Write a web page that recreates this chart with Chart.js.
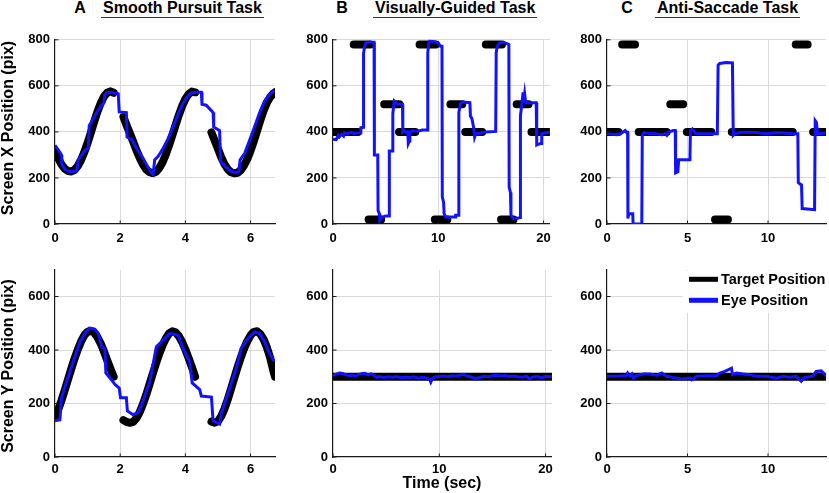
<!DOCTYPE html>
<html>
<head>
<meta charset="utf-8">
<title>Eye tracking tasks</title>
<script src="https://cdn.jsdelivr.net/npm/chart.js@4.4.1/dist/chart.umd.min.js"></script>
<style>
  html, body { margin: 0; padding: 0; background: #fff; overflow: hidden; }
  #page { position: relative; width: 829px; height: 493px; font-family: 'Liberation Sans', Arial, sans-serif; font-weight: bold; color: #000; }
  .box { position: absolute; }
  .txt { position: absolute; white-space: nowrap; font-size: 16px; line-height: 16px; }
  .ttl { position: absolute; white-space: nowrap; font-size: 16px; line-height: 14px; padding: 0 2px 2px 2px; border-bottom: 1.5px solid #333; }
  .rot { transform: translate(-50%, -50%) rotate(-90deg); }
</style>
</head>
<body>
<div id="page">
  <div class="box" style="left:10px;top:27px;width:271px;height:222px"><canvas id="pursuitX"></canvas></div>
  <div class="box" style="left:288px;top:27px;width:270px;height:222px"><canvas id="guidedX"></canvas></div>
  <div class="box" style="left:562px;top:27px;width:267px;height:222px"><canvas id="antiX"></canvas></div>
  <div class="box" style="left:10px;top:257px;width:271px;height:225px"><canvas id="pursuitY"></canvas></div>
  <div class="box" style="left:288px;top:257px;width:270px;height:225px"><canvas id="guidedY"></canvas></div>
  <div class="box" style="left:562px;top:257px;width:267px;height:225px"><canvas id="antiY"></canvas></div>

  <div class="txt" style="left:80px;top:0px;transform:translateX(-50%)">A</div>
  <div class="ttl" style="left:101px;top:1px">Smooth Pursuit Task</div>
  <div class="txt" style="left:342px;top:0px;transform:translateX(-50%)">B</div>
  <div class="ttl" style="left:373px;top:1px">Visually-Guided Task</div>
  <div class="txt" style="left:627px;top:0px;transform:translateX(-50%)">C</div>
  <div class="ttl" style="left:655px;top:1px">Anti-Saccade Task</div>

  <div class="txt rot" style="left:8px;top:128px">Screen X Position (pix)</div>
  <div class="txt rot" style="left:8px;top:366px">Screen Y Position (pix)</div>
  <div class="txt" style="left:442px;top:475px;transform:translateX(-50%)">Time (sec)</div>
</div>

<script>
// ---- tick labels
var xTicksPursuit = [0, 2, 4, 6];
var xTicksGuided = [0, 10, 20];
var xTicksAnti = [0, 5, 10];
var yTicksX = [0, 200, 400, 600, 800];
var yTicksY = [0, 200, 400, 600];

// ---- A: smooth pursuit (null = target off)
var pursuitTargetTime = [0, 0.1, 0.2, 0.3, 0.4, 0.5, 0.6, 0.7, 0.8, 0.9, 1.0, 1.1, 1.2, 1.3, 1.4, 1.5, 1.6, 1.7, 1.8, 1.95,
  2.1, 2.2, 2.3, 2.4, 2.5, 2.6, 2.7, 2.8, 2.9, 3.0, 3.1, 3.2, 3.3, 3.4, 3.5, 3.6, 3.7, 3.8, 3.9, 4.0, 4.1, 4.2, 4.3, 4.55,
  4.8, 4.9, 5.0, 5.1, 5.2, 5.3, 5.4, 5.5, 5.6, 5.7, 5.8, 5.9, 6.0, 6.1, 6.2, 6.3, 6.4, 6.5, 6.6, 6.7, 6.75];
var pursuitTargetX = [318, 285, 258, 240, 230, 228, 235, 252, 278, 312, 352, 397, 443, 487, 524, 553, 570, 576, 570, null,
  465, 428, 393, 357, 320, 287, 258, 237, 225, 221, 227, 243, 268, 302, 342, 385, 430, 473, 512, 543, 564, 575, 572, null,
  398, 362, 327, 290, 260, 238, 225, 220, 222, 234, 254, 282, 318, 360, 405, 450, 492, 526, 551, 567, 572];
var pursuitTargetY = [150, 178, 212, 250, 290, 330, 368, 402, 432, 455, 468, 472, 465, 448, 425, 395, 362, 330, 300, null,
  138, 131, 128, 131, 145, 168, 198, 233, 272, 312, 350, 386, 418, 443, 462, 470, 466, 452, 430, 402, 370, 336, 300, null,
  132, 128, 134, 152, 180, 215, 255, 295, 335, 372, 405, 433, 455, 468, 470, 460, 440, 410, 372, 322, 300];

var pursuitEyeXTime = [0, 0.1, 0.2, 0.21, 0.31, 0.46, 0.61, 0.68, 0.71, 0.77, 0.92, 1.02, 1.05, 1.17, 1.28, 1.38, 1.5, 1.53, 1.58, 1.68,
  1.94, 1.97, 2.19, 2.21, 2.35, 2.5, 2.7, 2.86, 2.96, 3.01, 3.06, 3.16, 3.32, 3.47, 3.62, 3.78, 3.93, 4.08, 4.18, 4.34,
  4.49, 4.51, 4.64, 4.74, 4.85, 4.87, 5.05, 5.08, 5.26, 5.41, 5.56, 5.64, 5.68, 5.82, 5.97, 6.12, 6.28, 6.43, 6.58, 6.73];
var pursuitEyeX = [342, 322, 300, 258, 236, 227, 229, 236, 279, 290, 321, 328, 427, 456, 484, 505, 527, 562, 569, 572,
  566, 487, 484, 378, 368, 329, 286, 244, 222, 215, 279, 293, 329, 371, 421, 477, 527, 555, 569, 572,
  572, 520, 516, 501, 484, 421, 406, 272, 244, 229, 222, 227, 279, 307, 364, 421, 484, 534, 562, 580];

var pursuitEyeYTime = [0, 0.15, 0.2, 0.36, 0.56, 0.77, 0.92, 1.05, 1.22, 1.33, 1.43, 1.53, 1.56, 1.73, 1.84, 1.97, 2.01, 2.19, 2.22, 2.4,
  2.55, 2.7, 2.91, 3.11, 3.32, 3.52, 3.78, 3.93, 4.13, 4.21, 4.44, 4.49, 4.8, 4.85, 4.95, 5.05, 5.1, 5.36, 5.56, 5.71,
  5.92, 6.12, 6.28, 6.43, 6.58, 6.73];
var pursuitEyeY = [135, 139, 221, 283, 357, 431, 462, 482, 478, 462, 412, 404, 314, 289, 271, 258, 222, 222, 172, 158,
  166, 209, 283, 412, 437, 462, 455, 406, 357, 277, 252, 228, 224, 135, 129, 123, 160, 258, 332, 406,
  443, 468, 462, 431, 388, 357];

// ---- B: visually-guided (target steps: start, end, level)
var guidedTargetStart = [0, 1.97, 3.38, 4.86, 6.27, 8.22, 9.67, 11.15, 12.56, 14.51, 15.96, 17.44, 18.85];
var guidedTargetEnd = [2.37, 3.54, 4.57, 6.3, 7.81, 9.76, 10.86, 12.28, 14.17, 16.05, 17.15, 18.57, 20.6];
var guidedTargetX = [400, 780, 20, 520, 400, 780, 20, 520, 400, 780, 20, 520, 400];
var guidedTargetY = [300];

var guidedEyeXTime = [0, 0.3, 0.5, 0.6, 0.8, 1.0, 1.1, 1.4, 1.7, 2.0, 2.3, 2.6, 2.65, 2.85, 2.9, 3.0, 3.1, 3.3, 3.9, 3.93,
  4.25, 4.28, 4.4, 4.45, 4.6, 5.0, 5.33, 5.35, 5.66, 5.68, 5.82, 5.95, 6.1, 6.6, 6.63, 6.8, 7.0, 7.1, 7.15, 7.25,
  7.3, 7.5, 8.0, 8.5, 8.95, 9.0, 9.1, 9.2, 9.6, 10.0, 10.2, 10.35, 10.38, 10.5, 10.55, 10.7, 11.6, 11.65, 11.93, 11.95,
  12.1, 12.3, 13.0, 13.05, 13.2, 13.35, 13.45, 13.55, 14.0, 14.5, 15.45, 15.5, 15.6, 15.8, 16.2, 16.7, 16.73, 16.85, 16.9, 17.1,
  17.6, 17.77, 17.8, 17.95, 18.05, 18.1, 18.2, 18.3, 19.3, 19.35, 19.7, 19.8, 19.82, 20.2, 20.6];
var guidedEyeX = [368, 366, 385, 378, 390, 382, 396, 392, 398, 393, 395, 396, 418, 420, 740, 770, 785, 789, 789, 300,
  300, 60, 45, 15, 28, 35, 35, 317, 317, 480, 534, 528, 520, 520, 400, 405, 398, 400, 350, 360,
  395, 405, 403, 408, 408, 745, 785, 796, 792, 786, 772, 772, 118, 95, 45, 30, 30, 38, 38, 484,
  522, 530, 527, 470, 456, 420, 378, 392, 394, 400, 402, 745, 772, 786, 789, 780, 160, 137, 40, 24,
  26, 28, 470, 527, 572, 527, 565, 527, 527, 343, 350, 350, 392, 396, 398];

var guidedEyeYTime = [0, 0.3, 0.6, 0.9, 1.2, 1.5, 1.8, 2.1, 2.4, 2.7, 3.0, 3.3, 3.6, 3.9, 4.1, 4.4, 4.8, 5.2, 5.6, 6.0,
  6.4, 6.8, 7.2, 7.6, 8.0, 8.4, 8.8, 9.1, 9.2, 9.35, 9.6, 10.0, 10.4, 10.8, 11.2, 11.6, 12.0, 12.3, 12.6, 13.0,
  13.4, 13.8, 14.2, 14.6, 15.0, 15.4, 15.8, 16.2, 16.6, 17.0, 17.4, 17.8, 18.2, 18.5, 18.8, 19.2, 19.6, 20.0, 20.4, 20.6];
var guidedEyeY = [305, 310, 314, 312, 308, 304, 306, 303, 309, 311, 313, 307, 311, 304, 298, 301, 297, 300, 298, 301,
  296, 299, 297, 300, 295, 298, 296, 290, 280, 294, 299, 301, 303, 300, 304, 302, 306, 309, 303, 299,
  294, 297, 302, 300, 304, 306, 303, 305, 301, 303, 300, 298, 302, 292, 299, 301, 297, 302, 300, 301];

// ---- C: anti-saccade
var antiTargetStart = [0, 0.94, 1.97, 3.93, 4.96, 6.71, 7.75, 11.72, 12.8];
var antiTargetEnd = [0.71, 1.74, 3.7, 4.73, 6.48, 7.51, 11.53, 12.46, 13.6];
var antiTargetX = [400, 780, 400, 520, 400, 20, 400, 780, 400];
var antiTargetY = [300];

var antiEyeXTime = [0, 0.3, 0.62, 0.9, 1.13, 1.2, 1.28, 1.3, 1.35, 1.6, 1.62, 2.16, 2.19, 2.3, 2.68, 3.0, 3.4, 3.6, 3.71, 3.8,
  4.12, 4.24, 4.26, 4.4, 4.45, 5.15, 5.18, 5.3, 5.5, 6.85, 6.9, 7.0, 7.4, 7.79, 7.84, 7.95, 8.3, 9.0, 9.9, 10.5,
  10.93, 11.65, 11.85, 11.88, 12.0, 12.08, 12.12, 12.89, 12.93, 13.0, 13.09, 13.3, 13.6];
var antiEyeX = [392, 390, 388, 395, 406, 399, 399, 24, 45, 45, 0, 0, 385, 397, 392, 392, 388, 392, 385, 399,
  406, 406, 222, 227, 279, 279, 406, 413, 392, 392, 690, 697, 701, 700, 385, 392, 399, 399, 392, 396,
  395, 392, 392, 180, 173, 170, 67, 62, 449, 442, 392, 392, 397];

var antiEyeYTime = [0, 0.62, 1.2, 1.28, 1.44, 1.55, 1.65, 1.86, 2.27, 2.68, 3.09, 3.4, 3.71, 4.33, 4.64, 5.15, 5.26, 5.57, 6.19, 6.8,
  7.01, 7.32, 7.73, 7.79, 8.04, 8.45, 8.87, 9.28, 9.9, 10.52, 10.93, 11.34, 11.75, 12.06, 12.27, 12.78, 12.99, 13.3, 13.5, 13.6];
var antiEyeY = [302, 302, 305, 314, 302, 310, 295, 305, 310, 310, 305, 314, 302, 295, 292, 295, 289, 302, 304, 304,
  314, 320, 332, 308, 314, 310, 308, 302, 302, 295, 302, 298, 302, 283, 298, 302, 320, 322, 310, 302];

var seriesNames = ['Target Position', 'Eye Position'];

Chart.defaults.font.family = "'Liberation Sans', Arial, sans-serif";
Chart.defaults.font.size = 13;
Chart.defaults.font.weight = 'bold';
Chart.defaults.color = '#000';

function pts(xs, ys) {
  return xs.map(function (x, i) { return { x: x, y: ys[i] }; });
}

// each step of the target becomes its own short segment
function steps(starts, ends, levels) {
  var out = [];
  starts.forEach(function (s, i) {
    out.push({ x: s, y: levels[i] }, { x: ends[i], y: levels[i] }, { x: ends[i], y: null });
  });
  return out;
}

function target(data) {
  return { label: seriesNames[0], data: data, borderColor: '#000', borderWidth: 8,
    borderCapStyle: 'round', borderJoinStyle: 'round', order: 2 };
}
function eye(data) {
  return { label: seriesNames[1], data: data, borderColor: '#1212ff', borderWidth: 3, order: 1 };
}

// MATLAB style inward tick marks
Chart.register({
  id: 'tickMarks',
  afterDraw: function (chart) {
    var c = chart.ctx, a = chart.chartArea, xs = chart.scales.x, ys = chart.scales.y;
    c.save();
    c.strokeStyle = '#1a1a1a';
    c.lineWidth = 1;
    c.beginPath();
    xs.ticks.forEach(function (t) {
      var px = xs.getPixelForValue(t.value);
      c.moveTo(px, a.bottom); c.lineTo(px, a.bottom - 3.5);
    });
    ys.ticks.forEach(function (t) {
      var py = ys.getPixelForValue(t.value);
      c.moveTo(a.left, py); c.lineTo(a.left + 3.5, py);
    });
    c.stroke();
    c.restore();
  }
});

var legendBox = {
  id: 'legendBox',
  afterDatasetsDraw: function (chart) {
    var c = chart.ctx, a = chart.chartArea;
    c.save();
    c.fillStyle = '#fff';
    c.fillRect(a.right - 143, a.top + 1, 146, 42);
    c.font = "bold 14.5px 'Liberation Sans', Arial, sans-serif";
    c.textBaseline = 'middle';
    chart.data.datasets.forEach(function (ds, i) {
      var y = a.top + 9.5 + i * 21;
      c.strokeStyle = ds.borderColor;
      c.lineWidth = 5;
      c.beginPath(); c.moveTo(a.right - 137, y); c.lineTo(a.right - 108, y); c.stroke();
      c.fillStyle = '#000';
      c.fillText(ds.label, a.right - 105, y + 0.5);
    });
    c.restore();
  }
};

function gridColor(ctx) {
  return ctx.tick && ctx.tick.value === 0 ? 'rgba(0,0,0,0)' : '#d9d9d9';
}

function makeChart(id, datasets, xMax, xTicks, yMax, yTicks, xPad, padRight, extra) {
  return new Chart(document.getElementById(id), {
    type: 'line',
    data: { datasets: datasets },
    options: {
      responsive: true,
      maintainAspectRatio: false,
      animation: false,
      events: [],
      layout: { padding: { top: 10, right: padRight, left: 0, bottom: 0 } },
      plugins: { legend: { display: false }, tooltip: { enabled: false } },
      elements: { point: { radius: 0 }, line: { tension: 0 } },
      scales: {
        x: {
          type: 'linear', min: 0, max: xMax,
          afterBuildTicks: function (s) { s.ticks = xTicks.map(function (v) { return { value: v }; }); },
          afterFit: function (s) { s.height = 25; },
          ticks: { padding: xPad, maxRotation: 0 },
          grid: { color: gridColor, drawTicks: false, lineWidth: 1 },
          border: { color: '#1a1a1a', width: 1.2 }
        },
        y: {
          type: 'linear', min: 0, max: yMax,
          afterBuildTicks: function (s) { s.ticks = yTicks.map(function (v) { return { value: v }; }); },
          afterFit: function (s) { s.width = 45; },
          ticks: { padding: 5 },
          grid: { color: gridColor, drawTicks: false, lineWidth: 1 },
          border: { color: '#1a1a1a', width: 1.2 }
        }
      }
    },
    plugins: extra || []
  });
}

makeChart('pursuitX', [target(pts(pursuitTargetTime, pursuitTargetX)), eye(pts(pursuitEyeXTime, pursuitEyeX))],
  6.75, xTicksPursuit, 800, yTicksX, 7, 6);
makeChart('guidedX', [target(steps(guidedTargetStart, guidedTargetEnd, guidedTargetX)), eye(pts(guidedEyeXTime, guidedEyeX))],
  20.6, xTicksGuided, 800, yTicksX, 7, 6);
makeChart('antiX', [target(steps(antiTargetStart, antiTargetEnd, antiTargetX)), eye(pts(antiEyeXTime, antiEyeX))],
  13.6, xTicksAnti, 800, yTicksX, 7, 3);

makeChart('pursuitY', [target(pts(pursuitTargetTime, pursuitTargetY)), eye(pts(pursuitEyeYTime, pursuitEyeY))],
  6.75, xTicksPursuit, 700, yTicksY, 5, 6);
makeChart('guidedY', [target(steps([0], [20.6], guidedTargetY)), eye(pts(guidedEyeYTime, guidedEyeY))],
  20.6, xTicksGuided, 700, yTicksY, 5, 6);
makeChart('antiY', [target(steps([0], [13.6], antiTargetY)), eye(pts(antiEyeYTime, antiEyeY))],
  13.6, xTicksAnti, 700, yTicksY, 5, 3, [legendBox]);
</script>
</body>
</html>
